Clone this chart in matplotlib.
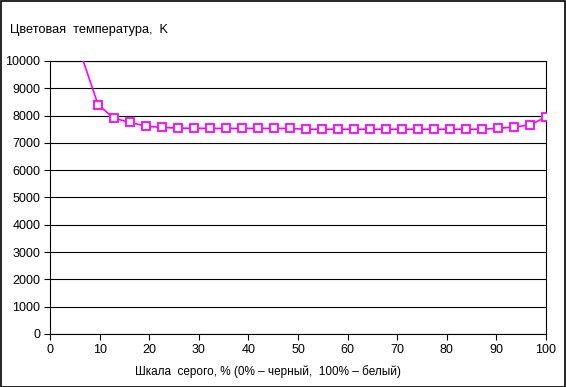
import matplotlib.pyplot as plt
from matplotlib.patches import Rectangle

plt.rcParams['font.family'] = ['Liberation Sans', 'DejaVu Sans']

# grey scale, % (points every 1/31 of the range)
gray_pct = [6.45, 9.68, 12.90, 16.13, 19.35, 22.58, 25.81, 29.03, 32.26, 35.48,
            38.71, 41.94, 45.16, 48.39, 51.61, 54.84, 58.06, 61.29, 64.52, 67.74,
            70.97, 74.19, 77.42, 80.65, 83.87, 87.10, 90.32, 93.55, 96.77, 100.0]
# colour temperature, K
color_temp = [10140, 8400, 7900, 7755, 7610, 7570, 7540, 7535, 7530, 7530,
              7530, 7530, 7530, 7530, 7500, 7500, 7500, 7500, 7500, 7500,
              7500, 7500, 7500, 7500, 7500, 7500, 7535, 7580, 7655, 7950]

x_ticks = list(range(0, 101, 10))
y_ticks = list(range(0, 10001, 1000))

fig = plt.figure(figsize=(5.66, 3.87), dpi=100)
ax = fig.add_axes([50/566, 53/387, 496/566, 273/387])

# line first, markers skip the clipped point above 10000
ax.plot(gray_pct, color_temp, color='#ff00ff', lw=1.2, marker='s', ms=6,
        mfc='white', mec='#ff00ff', mew=1.3, markevery=list(range(1, len(gray_pct))),
        zorder=3)

ax.set_xlim(0, 100)
ax.set_ylim(0, 10000)
ax.set_xticks(x_ticks)
ax.set_yticks(y_ticks)
ax.yaxis.grid(True, color='black', lw=0.8)
ax.set_axisbelow(True)
for s in ax.spines.values():
    s.set_color('black')
    s.set_linewidth(0.8)
ax.tick_params(direction='out', length=4, width=0.8, labelsize=9, colors='black', pad=3)

fig.text(268/566, 1 - 372/387, 'Шкала  серого, % (0% – черный,  100% – белый)',
         fontsize=8.5, ha='center', va='center')
fig.text(10/566, 1 - 30/387, 'Цветовая  температура,  K', fontsize=9.2, va='center', ha='left')

# outer frame of the chart
fig.patches.append(Rectangle((0.001, 0.001), 0.997, 0.997, transform=fig.transFigure,
                             fill=False, edgecolor='black', lw=1.2))

fig.savefig('out.png', dpi=100)
